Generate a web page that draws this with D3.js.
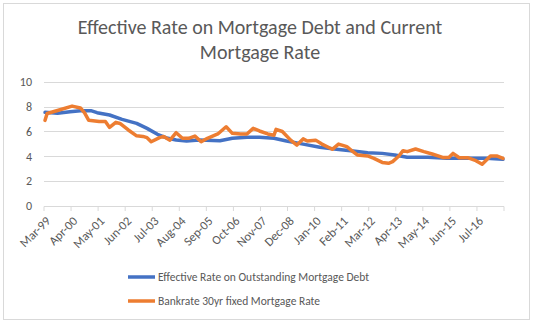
<!DOCTYPE html>
<html>
<head>
<meta charset="utf-8">
<script src="https://cdn.jsdelivr.net/npm/d3@7"></script>
<style>
  html, body { margin: 0; padding: 0; background: #fff; }
  svg { display: block; }
</style>
</head>
<body>
<svg id="chart" width="533" height="323"></svg>
<script>
// Monthly category axis: Mar-99 through Jul-17
const firstMonth = "1999-03";
const monthCount = 221;

// Axis labels, one every 13 months
const tickLabels = ["Mar-99","Apr-00","May-01","Jun-02","Jul-03","Aug-04","Sep-05","Oct-06",
  "Nov-07","Dec-08","Jan-10","Feb-11","Mar-12","Apr-13","May-14","Jun-15","Jul-16"];
const yTicks = [0, 2, 4, 6, 8, 10];

// Effective Rate on Outstanding Mortgage Debt
const effectiveDates = ["1999-03","1999-09","2000-03","2000-08","2001-01","2001-04","2001-10",
  "2002-04","2002-11","2003-04","2003-09","2004-02","2004-06","2004-11","2005-05","2006-03",
  "2006-09","2007-04","2007-10","2008-05","2008-11","2009-07","2010-03","2010-11","2011-07",
  "2012-02","2012-09","2013-03","2013-09","2014-07","2015-04","2016-02","2016-11","2017-07"];
const effectiveRate = [7.55,7.47,7.6,7.68,7.68,7.52,7.33,
  6.98,6.66,6.25,5.77,5.45,5.31,5.23,5.31,5.25,
  5.45,5.53,5.53,5.45,5.23,4.98,4.72,4.56,4.42,
  4.28,4.23,4.1,3.91,3.91,3.83,3.83,3.83,3.75];

// Bankrate 30yr fixed Mortgage Rate
const bankrateDates = ["1999-03","1999-04","1999-09","2000-04","2000-08","2000-10","2000-12",
  "2001-05","2001-08","2001-10","2002-01","2002-03","2002-07","2002-11","2003-02","2003-04",
  "2003-06","2003-10","2003-12","2004-03","2004-06","2004-09","2004-12","2005-03","2005-06",
  "2005-09","2006-02","2006-06","2006-09","2007-01","2007-04","2007-07","2007-10","2008-02",
  "2008-05","2008-06","2008-09","2009-01","2009-04","2009-07","2009-09","2010-01","2010-04",
  "2010-09","2010-12","2011-04","2011-06","2011-09","2012-02","2012-05","2012-09","2012-12",
  "2013-02","2013-05","2013-07","2013-09","2014-01","2014-05","2014-09","2015-02","2015-05",
  "2015-07","2015-10","2016-02","2016-06","2016-09","2017-01","2017-04","2017-07"];
const bankrateRate = [6.9,7.45,7.7,8.05,7.9,7.5,6.9,
  6.8,6.8,6.33,6.74,6.65,6.12,5.65,5.6,5.5,
  5.17,5.5,5.6,5.3,5.9,5.45,5.45,5.63,5.17,
  5.45,5.8,6.38,5.85,5.8,5.8,6.25,6.04,5.8,
  5.7,6.17,6.0,5.3,4.9,5.4,5.23,5.3,4.98,
  4.56,4.98,4.77,4.5,4.1,4.02,3.83,3.5,3.43,
  3.56,4.02,4.45,4.37,4.58,4.37,4.18,3.9,3.9,
  4.23,3.88,3.88,3.64,3.35,4.02,4.02,3.83];

const seriesNames = ["Effective Rate on Outstanding Mortgage Debt", "Bankrate 30yr fixed Mortgage Rate"];
const seriesColors = ["#4472C4", "#ED7D31"];

function monthIndex(s) {
  const [y0, m0] = firstMonth.split("-").map(Number);
  const [y, m] = s.split("-").map(Number);
  return (y - y0) * 12 + (m - m0);
}

const svg = d3.select("#chart");
const textColor = "#595959";
const font = "Carlito, 'Open Sans', 'Liberation Sans', sans-serif";

// chart frame
svg.append("rect").attr("x", 3.5).attr("y", 3.5).attr("width", 526).attr("height", 316)
  .attr("fill", "#fff").attr("stroke", "#d9d9d9").attr("stroke-width", 1);

// title
const title = svg.append("text").attr("text-anchor", "middle").attr("fill", textColor)
  .style("font-family", font).style("font-size", "20px");
title.append("tspan").attr("x", 260).attr("y", 34).text("Effective Rate on Mortgage Debt and Current");
title.append("tspan").attr("x", 260).attr("y", 59).text("Mortgage Rate");

const plot = { left: 44, right: 504, top: 82, bottom: 205.7 };

// band per month; points sit at band centres
const x = d3.scaleBand().domain(d3.range(monthCount)).range([plot.left, plot.right]).padding(0);
const xc = i => x(i) + x.bandwidth() / 2;
const y = d3.scaleLinear().domain([0, 10]).range([plot.bottom, plot.top]);

// gridlines
svg.append("g").selectAll("line").data(yTicks.filter(v => v > 0)).join("line")
  .attr("x1", plot.left).attr("x2", plot.right)
  .attr("y1", d => Math.round(y(d)) + 0.5).attr("y2", d => Math.round(y(d)) + 0.5)
  .attr("stroke", "#d9d9d9").attr("stroke-width", 1);

// y axis labels
const yAxis = d3.axisLeft(y).tickValues(yTicks).tickSize(0).tickPadding(12);
svg.append("g").attr("transform", `translate(${plot.left},0)`).call(yAxis)
  .call(g => g.select(".domain").remove())
  .call(g => g.selectAll("text").attr("fill", textColor)
    .style("font-family", font).style("font-size", "12px"));

// x axis: tick marks every 13 months at band edges, labels at first band of each group
const tickIdx = d3.range(0, monthCount + 1, 13);
const xAxisG = svg.append("g");
xAxisG.append("line").attr("x1", plot.left).attr("x2", plot.right)
  .attr("y1", Math.round(plot.bottom) + 0.5).attr("y2", Math.round(plot.bottom) + 0.5)
  .attr("stroke", "#d9d9d9");
xAxisG.selectAll("line.tick").data(tickIdx).join("line").attr("class", "tick")
  .attr("x1", d => (d < monthCount ? x(d) : plot.right)).attr("x2", d => (d < monthCount ? x(d) : plot.right))
  .attr("y1", Math.round(plot.bottom) + 0.5).attr("y2", Math.round(plot.bottom) + 5)
  .attr("stroke", "#d9d9d9");
xAxisG.selectAll("text").data(tickLabels).join("text")
  .attr("transform", (d, i) => `translate(${xc(i * 13) + 3},${plot.bottom + 13}) rotate(-45)`)
  .attr("text-anchor", "end").attr("dy", "0.35em")
  .attr("fill", textColor).style("font-family", font).style("font-size", "12.5px")
  .text(d => d);

// series lines
const line = d3.line().x(d => xc(d.i)).y(d => y(d.v)).curve(d3.curveLinear);
const series = [
  effectiveDates.map((d, k) => ({ i: monthIndex(d), v: effectiveRate[k] })),
  bankrateDates.map((d, k) => ({ i: monthIndex(d), v: bankrateRate[k] }))
];
series.forEach((pts, s) => {
  svg.append("path").datum(pts).attr("d", line).attr("fill", "none")
    .attr("stroke", seriesColors[s]).attr("stroke-width", 3.5)
    .attr("stroke-linejoin", "round").attr("stroke-linecap", "round");
});

// legend
const legend = svg.append("g");
seriesNames.forEach((name, s) => {
  const ly = 277 + s * 24;
  legend.append("line").attr("x1", 128).attr("x2", 155).attr("y1", ly).attr("y2", ly)
    .attr("stroke", seriesColors[s]).attr("stroke-width", 3.5);
  legend.append("text").attr("x", 158).attr("y", ly).attr("dy", "0.35em")
    .attr("fill", textColor).style("font-family", font).style("font-size", "11.5px")
    .text(name);
});
</script>
</body>
</html>
